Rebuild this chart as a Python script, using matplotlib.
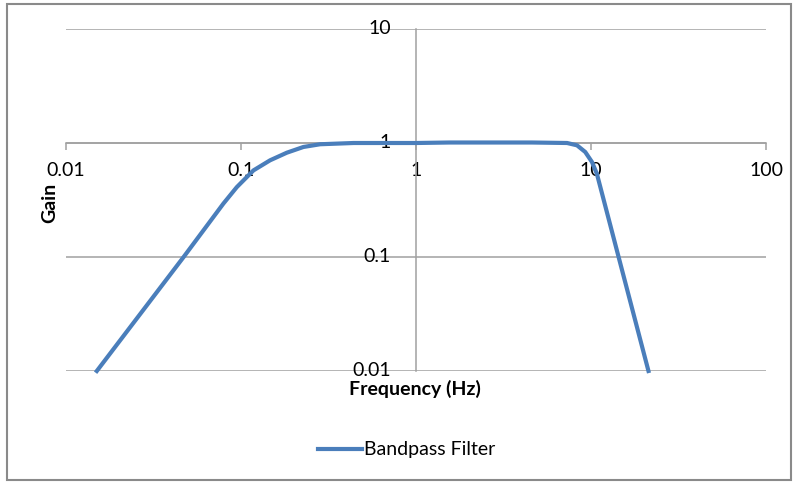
import matplotlib

matplotlib.use("Agg")

import matplotlib.pyplot as plt
from matplotlib.lines import Line2D
from matplotlib.patches import Rectangle
from matplotlib.ticker import FixedLocator, FixedFormatter, NullLocator

plt.rcParams["font.family"] = ["Lato", "DejaVu Sans"]

# values
freq_hz = [0.015, 0.047, 0.0793, 0.0946, 0.1178, 0.1466, 0.1827, 0.2274,
           0.283, 0.44, 1.0, 1.55, 4.6, 7.3, 8.32, 9.27, 10.13, 10.8,
           14.38, 21.3]
gain = [0.01, 0.1, 0.294, 0.41, 0.575, 0.705, 0.822, 0.923,
        0.975, 1.0, 1.0, 1.01, 1.01, 1.0, 0.954, 0.834, 0.681, 0.538,
        0.1, 0.01]

x_ticks = [0.01, 0.1, 1, 10, 100]
x_labels = ["0.01", "0.1", "1", "10", "100"]
y_ticks = [0.01, 0.1, 1, 10]
y_labels = ["0.01", "0.1", "1", "10"]

W, H = 797, 483
GRID = "#a0a0a0"
BLUE = "#4a7ebb"
FS = 14

fig = plt.figure(figsize=(W / 100, H / 100), dpi=100)

# plot area in pixel coordinates
left, right, top, bottom = 66, 766, 29, 371
ax = fig.add_axes([left / W, 1 - bottom / H, (right - left) / W, (bottom - top) / H])
ax.set_xscale("log")
ax.set_yscale("log")
ax.set_xlim(0.01, 100)
ax.set_ylim(0.01, 10)

for y in y_ticks:
    ax.axhline(y, color=GRID, lw=1.1, zorder=1)

ax.spines["top"].set_visible(False)
ax.spines["right"].set_visible(False)
ax.spines["bottom"].set_position(("data", 1))
ax.spines["left"].set_position(("data", 1))
for side in ("bottom", "left"):
    ax.spines[side].set_color(GRID)
    ax.spines[side].set_linewidth(1.1)

ax.xaxis.set_major_locator(FixedLocator(x_ticks))
ax.xaxis.set_major_formatter(FixedFormatter(x_labels))
ax.xaxis.set_minor_locator(NullLocator())
ax.yaxis.set_major_locator(FixedLocator(y_ticks))
ax.yaxis.set_major_formatter(FixedFormatter(y_labels))
ax.yaxis.set_minor_locator(NullLocator())
ax.tick_params(axis="x", direction="out", length=5, width=1.1, color=GRID,
               labelsize=FS, pad=9)
ax.tick_params(axis="y", length=0, labelsize=FS, pad=18)
for lab in ax.get_yticklabels():
    lab.set_verticalalignment("center")

ax.plot(freq_hz, gain, color=BLUE, lw=3, solid_joinstyle="round", zorder=3,
        clip_on=False)

fig.text(50 / W, 1 - 203 / H, "Gain", rotation=90, ha="center", va="center",
         fontsize=FS, fontweight="bold")
fig.text(415 / W, 1 - 389 / H, "Frequency (Hz)", ha="center", va="center",
         fontsize=FS, fontweight="bold")

# legend
fig.add_artist(Line2D([318 / W, 362 / W], [1 - 449 / H, 1 - 449 / H],
                      color=BLUE, lw=3, transform=fig.transFigure))
fig.text(364 / W, 1 - 449 / H, "Bandpass Filter", ha="left", va="center",
         fontsize=FS)

# chart border
fig.add_artist(Rectangle((7 / W, 1 - 480 / H), (791 - 7) / W, (480 - 4) / H,
                         transform=fig.transFigure, fill=False,
                         edgecolor="#8a8a8a", lw=1.5))

fig.savefig("out.png", dpi=100)
